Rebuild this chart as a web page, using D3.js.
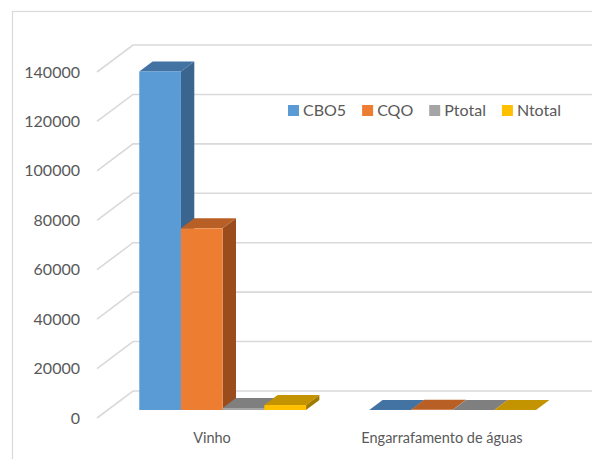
<!DOCTYPE html>
<html>
<head>
<meta charset="utf-8">
<script src="https://cdn.jsdelivr.net/npm/d3@7"></script>
<style>
  html, body { margin: 0; padding: 0; background: #fff; }
  svg { display: block; font-family: Lato, "Open Sans", sans-serif; }
</style>
</head>
<body>
<svg id="chart" width="592" height="459"></svg>
<script>
// Data
const categories = ["Vinho", "Engarrafamento de águas"];
const series = ["CBO5", "CQO", "Ptotal", "Ntotal"];
const valuesVinho = [137000, 73500, 800, 2000];
const valuesAguas = [40, 60, 5, 20];
const yTicks = [0, 20000, 40000, 60000, 80000, 100000, 120000, 140000];

const colorsFront = ["#5b9bd5", "#ed7d31", "#a5a5a5", "#ffc000"];
const colorsTop   = ["#4273a3", "#b85f25", "#7f7f7f", "#c49300"];
const colorsSide  = ["#39658e", "#9b4c1c", "#6e6e6e", "#a37a00"];

const rows = categories.map((c, i) => ({
  category: c,
  values: [valuesVinho, valuesAguas][i]
}));

const svg = d3.select("#chart");

// Chart area border
svg.append("rect")
  .attr("x", 12.5).attr("y", 11.5)
  .attr("width", 640).attr("height", 500)
  .attr("fill", "#fff").attr("stroke", "#d9d9d9").attr("stroke-width", 1.2);

// Oblique 3D geometry: floor front-left corner and depth vector
const originX = 97, originY = 418;
const depthX = 36, depthY = -27;
const wallRight = 640;

const h = d3.scaleLinear().domain([0, 140000]).range([0, 346]);
const x = d3.scaleBand().domain(categories).range([originX, originX + 460]);
const xs = d3.scaleBand().domain(series).range([0, x.bandwidth()])
  .paddingInner(0).paddingOuter(0.758);

// Gridlines: along the side wall then across the back wall
const grid = svg.append("g");
yTicks.forEach(t => {
  const fy = originY - h(t);
  grid.append("path")
    .attr("d", `M${originX},${fy}L${originX + depthX},${fy + depthY}L${wallRight},${fy + depthY}`)
    .attr("fill", "none").attr("stroke", "#d9d9d9").attr("stroke-width", 1.6);
});

// Value axis labels
svg.append("g").selectAll("text").data(yTicks).join("text")
  .attr("x", 80)
  .attr("y", d => originY - h(d) + 1.5)
  .attr("text-anchor", "end")
  .attr("dominant-baseline", "middle")
  .attr("font-size", 16)
  .attr("fill", "#595959")
  .text(d => d);

// Bars sit in the middle of the floor depth
const fFront = 8 / 27, fBack = 18 / 27;
const bx0 = depthX * fFront, by0 = depthY * fFront;
const bdx = depthX * (fBack - fFront), bdy = depthY * (fBack - fFront);

const bars = svg.append("g");
rows.forEach(row => {
  series.forEach((s, i) => {
    const v = row.values[i];
    const left = x(row.category) + xs(s) + bx0;
    const right = left + xs.bandwidth();
    const base = originY + by0;
    const top = base - h(v);
    const g = bars.append("g");
    // side face
    g.append("path")
      .attr("d", `M${right},${base}L${right + bdx},${base + bdy}L${right + bdx},${top + bdy}L${right},${top}Z`)
      .attr("fill", colorsSide[i]);
    // top face
    g.append("path")
      .attr("d", `M${left},${top}L${left + bdx},${top + bdy}L${right + bdx},${top + bdy}L${right},${top}Z`)
      .attr("fill", colorsTop[i]);
    // front face
    g.append("rect")
      .attr("x", left).attr("y", top)
      .attr("width", xs.bandwidth()).attr("height", Math.max(h(v), 0))
      .attr("fill", colorsFront[i]);
  });
});

// Category labels
svg.append("g").selectAll("text").data(categories).join("text")
  .attr("x", d => x(d) + x.bandwidth() / 2)
  .attr("y", 443)
  .attr("text-anchor", "middle")
  .attr("font-size", 14.5)
  .attr("fill", "#595959")
  .text(d => d);

// Legend
const legend = svg.append("g");
let lx = 288;
series.forEach((s, i) => {
  legend.append("rect")
    .attr("x", lx).attr("y", 105)
    .attr("width", 11).attr("height", 11)
    .attr("fill", colorsFront[i]);
  const t = legend.append("text")
    .attr("x", lx + 15).attr("y", 116)
    .attr("font-size", 16)
    .attr("fill", "#595959")
    .text(s);
  lx += 15 + t.node().getComputedTextLength() + 16;
});
</script>
</body>
</html>
